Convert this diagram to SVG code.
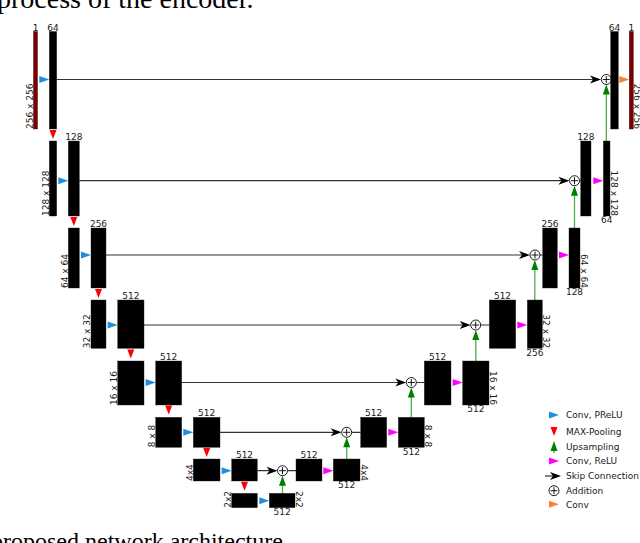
<svg xmlns="http://www.w3.org/2000/svg" width="640" height="543" viewBox="0 0 640 543">
<style>
.bar{fill:#000;stroke:#222;stroke-width:0.4}
.rbar{fill:#7a0000;stroke:#3a0000;stroke-width:0.4}
.t{font-family:"DejaVu Sans",sans-serif;font-size:9px;fill:#1a1a1a}
.m{text-anchor:middle}
.e{text-anchor:end}
.cap{font-family:"Liberation Serif",serif;fill:#000}
.skip{stroke:#333;stroke-width:1.2;fill:none}
.up{stroke:#4fae4f;stroke-width:1.3;fill:none}
.blue{fill:#1f8fdc}
.red{fill:#ff0000}
.grn{fill:#008000}
.mag{fill:#ff00ff}
.org{fill:#ff7f2a}
.blk{fill:#000}
</style>
<defs>
<path id="ar" d="M-10,-3.5 L0,0 L-10,3.5 Z"/>
<path id="ad" d="M-3.5,-9 L3.5,-9 L0,0 Z"/>
<path id="au" d="M-3.5,10 L3.5,10 L0,0 Z"/>
<path id="as" d="M-11,-4 L0,0 L-11,4 L-8,0 Z"/>
<g id="plus"><circle r="5" fill="#fff" stroke="#000" stroke-width="0.9"/><path d="M-3.5,0 H3.5 M0,-3.5 V3.5" fill="none" stroke="#000" stroke-width="0.9"/></g>
</defs>

<text class="cap" x="-3" y="8" font-size="28">process of the encoder.</text>
<text class="cap" x="-9" y="549" font-size="24">proposed network architecture</text>

<g id="connectors">
<g id="skips">
<path class="skip" d="M56.7,79.5 H594 M79.3,180.7 H563 M106,255 H523.5 M144,325 H464 M181.7,382.5 H400 M220,432.3 H335 M257.3,470.7 H271"/>
<path class="skip" d="M579.5,180.7 H580.7 M540,255 H542.7 M480.7,325 H489.3 M416.3,382.5 H424.3 M351.7,432.3 H360.7 M287.5,470.7 H296"/>
<use href="#as" class="blk" x="601" y="79.5"/>
<use href="#as" class="blk" x="569.5" y="180.7"/>
<use href="#as" class="blk" x="530" y="255"/>
<use href="#as" class="blk" x="470.7" y="325"/>
<use href="#as" class="blk" x="406.3" y="382.5"/>
<use href="#as" class="blk" x="341.7" y="432.3"/>
<use href="#as" class="blk" x="277.5" y="470.7"/>
</g>
<g id="upsampling">
<path class="up" d="M282.5,493.3 V485 M346.7,459 V446 M411.3,417.3 V396 M475.8,361 V339 M534.8,300 V269 M574.5,228 V195 M606.3,141 V94"/>
<use href="#au" class="grn" x="282.5" y="475.7"/>
<use href="#au" class="grn" x="346.7" y="437.3"/>
<use href="#au" class="grn" x="411.3" y="387.5"/>
<use href="#au" class="grn" x="475.8" y="330"/>
<use href="#au" class="grn" x="534.8" y="260"/>
<use href="#au" class="grn" x="574.5" y="185.7"/>
<use href="#au" class="grn" x="606.3" y="84.5"/>
</g>
<g id="conv-prelu">
<use href="#ar" class="blue" x="49.3" y="79.5"/>
<use href="#ar" class="blue" x="68.3" y="180.7"/>
<use href="#ar" class="blue" x="91" y="255"/>
<use href="#ar" class="blue" x="117.7" y="325"/>
<use href="#ar" class="blue" x="155.7" y="382.5"/>
<use href="#ar" class="blue" x="193.3" y="432.3"/>
<use href="#ar" class="blue" x="231.7" y="470.7"/>
<use href="#ar" class="blue" x="269.3" y="500.7"/>
</g>
<g id="maxpool">
<use href="#ad" class="red" x="53" y="139"/>
<use href="#ad" class="red" x="73.8" y="226"/>
<use href="#ad" class="red" x="98.5" y="298"/>
<use href="#ad" class="red" x="130.8" y="358.5"/>
<use href="#ad" class="red" x="168.7" y="414.5"/>
<use href="#ad" class="red" x="206.7" y="457"/>
<use href="#ad" class="red" x="244.5" y="490.7"/>
</g>
<g id="conv-relu">
<use href="#ar" class="mag" x="333.3" y="470.7"/>
<use href="#ar" class="mag" x="398.3" y="432.3"/>
<use href="#ar" class="mag" x="462.7" y="382.5"/>
<use href="#ar" class="mag" x="527.3" y="325"/>
<use href="#ar" class="mag" x="569" y="255"/>
<use href="#ar" class="mag" x="603.3" y="180.7"/>
<use href="#ar" class="org" x="629.3" y="79.5"/>
</g>
<g id="additions">
<use href="#plus" x="606.3" y="79.5"/>
<use href="#plus" x="574.5" y="180.7"/>
<use href="#plus" x="535" y="255"/>
<use href="#plus" x="475.7" y="325"/>
<use href="#plus" x="411.3" y="382.5"/>
<use href="#plus" x="346.7" y="432.3"/>
<use href="#plus" x="282.5" y="470.7"/>
</g>
</g>

<!-- Level 1 -->
<g id="in"><rect class="rbar" x="33.5" y="31.5" width="4" height="97.5"/><text class="t m" x="35.5" y="31">1</text><text class="t" transform="translate(32.8,129) rotate(-90)">256 x 256</text></g>
<g id="e1b"><rect class="bar" x="49.3" y="31.5" width="7.4" height="97.5"/><text class="t m" x="53" y="31">64</text></g>
<g id="d1b"><rect class="bar" x="610.7" y="31.5" width="7.6" height="97.5"/><text class="t m" x="614.5" y="31">64</text></g>
<g id="out"><rect class="rbar" x="629.3" y="31.5" width="4" height="97.5"/><text class="t m" x="631.3" y="31">1</text><text class="t e" transform="translate(633.8,129) rotate(90)">256 x 256</text></g>

<!-- Level 2 -->
<g id="e2a"><rect class="bar" x="49.3" y="141" width="7.4" height="75"/><text class="t" transform="translate(48.6,216) rotate(-90)">128 x 128</text></g>
<g id="e2b"><rect class="bar" x="68.3" y="141" width="11" height="75"/><text class="t m" x="73.8" y="140">128</text></g>
<g id="d2a"><rect class="bar" x="580.7" y="141" width="10.3" height="75"/><text class="t m" x="585.8" y="140">128</text></g>
<g id="d2b"><rect class="bar" x="603.3" y="141" width="6.7" height="75"/><text class="t m" x="606.7" y="223.3">64</text><text class="t e" transform="translate(610.5,216) rotate(90)">128 x 128</text></g>

<!-- Level 3 -->
<g id="e3a"><rect class="bar" x="68.3" y="228" width="11" height="60"/><text class="t" transform="translate(67.6,288) rotate(-90)">64 x 64</text></g>
<g id="e3b"><rect class="bar" x="91" y="228" width="15" height="60"/><text class="t m" x="98.5" y="227">256</text></g>
<g id="d3a"><rect class="bar" x="542.7" y="228" width="14.6" height="60"/><text class="t m" x="550" y="227">256</text></g>
<g id="d3b"><rect class="bar" x="569" y="228" width="11" height="60"/><text class="t m" x="574.5" y="295.3">128</text><text class="t e" transform="translate(580.5,288) rotate(90)">64 x 64</text></g>

<!-- Level 4 -->
<g id="e4a"><rect class="bar" x="91" y="300" width="15" height="48.3"/><text class="t" transform="translate(90.3,348.3) rotate(-90)">32 x 32</text></g>
<g id="e4b"><rect class="bar" x="117.7" y="300" width="26.3" height="48.3"/><text class="t m" x="130.8" y="299">512</text></g>
<g id="d4a"><rect class="bar" x="489.3" y="300" width="26.4" height="48.3"/><text class="t m" x="502.5" y="299">512</text></g>
<g id="d4b"><rect class="bar" x="527.3" y="300" width="15" height="48.3"/><text class="t m" x="534.8" y="355.6">256</text><text class="t e" transform="translate(542.8,348.3) rotate(90)">32 x 32</text></g>

<!-- Level 5 -->
<g id="e5a"><rect class="bar" x="117.7" y="361" width="26.3" height="44"/><text class="t" transform="translate(117,405) rotate(-90)">16 x 16</text></g>
<g id="e5b"><rect class="bar" x="155.7" y="361" width="26" height="44"/><text class="t m" x="168.7" y="360">512</text></g>
<g id="d5a"><rect class="bar" x="424.3" y="361" width="26.7" height="44"/><text class="t m" x="437.7" y="360">512</text></g>
<g id="d5b"><rect class="bar" x="462.7" y="361" width="26.3" height="44"/><text class="t m" x="475.8" y="412.3">512</text><text class="t e" transform="translate(489.5,405) rotate(90)">16 x 16</text></g>

<!-- Level 6 -->
<g id="e6a"><rect class="bar" x="155.7" y="417.3" width="26" height="30"/><text class="t" transform="translate(155,447.3) rotate(-90)">8 x 8</text></g>
<g id="e6b"><rect class="bar" x="193.3" y="417.3" width="26.7" height="30"/><text class="t m" x="206.7" y="416.3">512</text></g>
<g id="d6a"><rect class="bar" x="360.7" y="417.3" width="26" height="30"/><text class="t m" x="373.7" y="416.3">512</text></g>
<g id="d6b"><rect class="bar" x="398.3" y="417.3" width="26" height="30"/><text class="t m" x="411.3" y="454.6">512</text><text class="t e" transform="translate(424.8,447.3) rotate(90)">8 x 8</text></g>

<!-- Level 7 -->
<g id="e7a"><rect class="bar" x="193.3" y="459" width="26.7" height="22"/><text class="t" transform="translate(192.6,481) rotate(-90)">4x4</text></g>
<g id="e7b"><rect class="bar" x="231.7" y="459" width="25.6" height="22"/><text class="t m" x="244.5" y="458">512</text></g>
<g id="d7a"><rect class="bar" x="296" y="459" width="26" height="22"/><text class="t m" x="309" y="458">512</text></g>
<g id="d7b"><rect class="bar" x="333.3" y="459" width="26.7" height="22"/><text class="t m" x="346.7" y="488.3">512</text><text class="t e" transform="translate(360.5,481) rotate(90)">4x4</text></g>

<!-- Level 8 -->
<g id="e8a"><rect class="bar" x="231.7" y="493.3" width="25.6" height="14.4"/><text class="t" transform="translate(231,507.7) rotate(-90)">2x2</text></g>
<g id="e8b"><rect class="bar" x="269.3" y="493.3" width="25.7" height="14.4"/><text class="t m" x="282.2" y="515">512</text><text class="t e" transform="translate(295.5,507.7) rotate(90)">2x2</text></g>

<!-- Legend -->
<g id="legend">
<use href="#ar" class="blue" x="559" y="415"/><text class="t" x="566" y="418.3">Conv, PReLU</text>
<use href="#ad" class="red" x="554" y="436"/><text class="t" x="566" y="435">MAX-Pooling</text>
<use href="#au" class="grn" x="554" y="441"/><path d="M554,451 V453" stroke="#4fae4f" stroke-width="1.3"/><text class="t" x="566" y="450">Upsampling</text>
<use href="#ar" class="mag" x="559" y="461"/><text class="t" x="566" y="464.3">Conv, ReLU</text>
<path class="skip" d="M545,476 H553"/><use href="#as" class="blk" x="561" y="476"/><text class="t" x="566" y="479.3">Skip Connection</text>
<use href="#plus" x="554" y="490.7"/><text class="t" x="566" y="494">Addition</text>
<use href="#ar" class="org" x="559" y="504.3"/><text class="t" x="566" y="507.6">Conv</text>
</g>
</svg>
